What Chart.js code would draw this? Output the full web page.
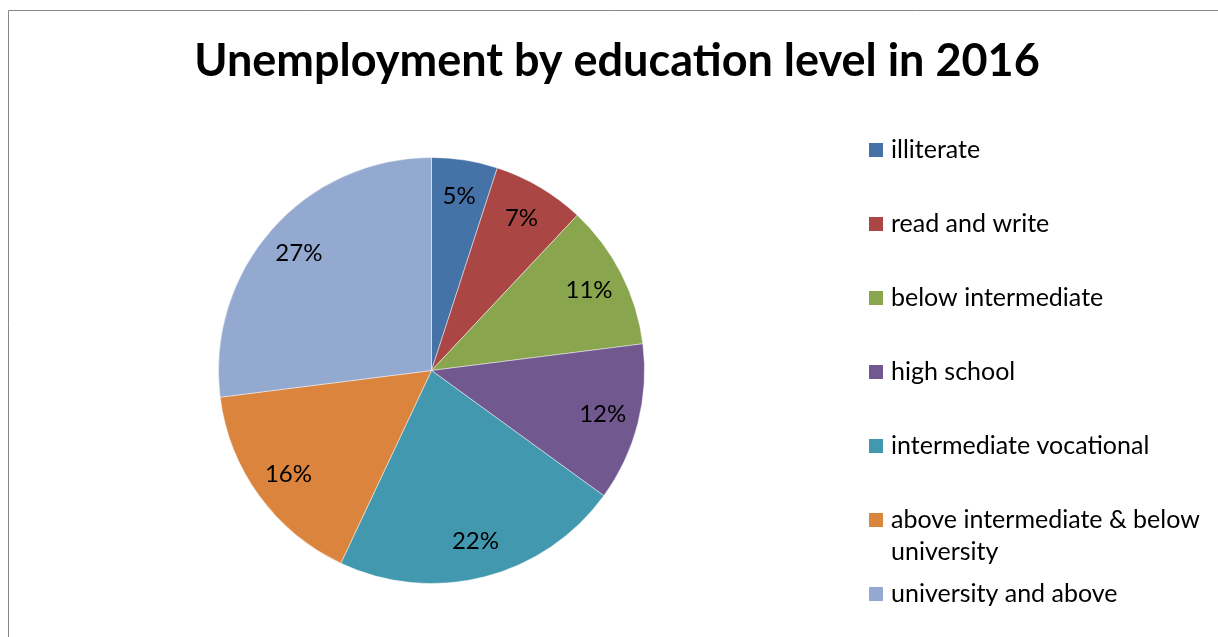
<!DOCTYPE html>
<html>
<head>
<meta charset="utf-8">
<title>Unemployment by education level in 2016</title>
<script src="https://cdn.jsdelivr.net/npm/chart.js@4.4.1/dist/chart.umd.min.js"></script>
<style>
  html, body { margin: 0; padding: 0; background: #fff; }
  #wrap { position: relative; width: 1218px; height: 637px; }
</style>
</head>
<body>
<div id="wrap"><canvas id="eduChart"></canvas></div>
<script>
// unemployment share per education level, 2016
const levels = [
    'illiterate',
    'read and write',
    'below intermediate',
    'high school',
    'intermediate vocational',
    'above intermediate & below university',
    'university and above'
];
const shares = [5, 7, 11, 12, 22, 16, 27];
const sliceColors = ['#4572A7', '#AA4643', '#89A54E', '#71588F', '#4198AF', '#DB843D', '#93A9CF'];
const chartTitle = 'Unemployment by education level in 2016';

const FONT = 'Lato, "Open Sans", sans-serif';

// frame + title drawn straight on the canvas
const frameAndTitle = {
    id: 'frameAndTitle',
    beforeDraw(chart) {
        const ctx = chart.ctx;
        ctx.save();
        ctx.strokeStyle = '#868686';
        ctx.lineWidth = 1;
        ctx.beginPath();
        ctx.moveTo(8.5, chart.height);
        ctx.lineTo(8.5, 10.5);
        ctx.lineTo(chart.width, 10.5);
        ctx.stroke();
        ctx.restore();
    },
    afterDraw(chart) {
        const ctx = chart.ctx;
        ctx.save();
        ctx.fillStyle = '#000';
        ctx.font = 'bold 45px ' + FONT;
        ctx.textAlign = 'center';
        ctx.textBaseline = 'alphabetic';
        ctx.fillText(chartTitle, 617, 76);
        ctx.restore();
    }
};

// percentage labels inside each slice
const sliceLabels = {
    id: 'sliceLabels',
    afterDatasetsDraw(chart) {
        const ctx = chart.ctx;
        const meta = chart.getDatasetMeta(0);
        ctx.save();
        ctx.fillStyle = '#000';
        ctx.font = '24px ' + FONT;
        ctx.textAlign = 'center';
        ctx.textBaseline = 'middle';
        meta.data.forEach((arc, i) => {
            const mid = (arc.startAngle + arc.endAngle) / 2;
            const r = arc.outerRadius * 0.83;
            const x = arc.x + Math.cos(mid) * r;
            const y = arc.y + Math.sin(mid) * r;
            ctx.fillText(shares[i] + '%', x, y);
        });
        ctx.restore();
    }
};

// legend on the right, wrapped the way the office chart does it
const sideLegend = {
    id: 'sideLegend',
    afterDraw(chart, args, opts) {
        const ctx = chart.ctx;
        ctx.save();
        ctx.font = '25px ' + FONT;
        ctx.textBaseline = 'middle';
        chart.data.labels.forEach((label, i) => {
            const y = opts.top + i * opts.step;
            ctx.fillStyle = sliceColors[i];
            ctx.fillRect(opts.left, y - 7, 14, 14);
            ctx.fillStyle = '#000';
            // simple word wrap
            const words = label.split(' ');
            const lines = [];
            let line = '';
            words.forEach(w => {
                const test = line ? line + ' ' + w : w;
                if (ctx.measureText(test).width > opts.maxWidth && line) {
                    lines.push(line);
                    line = w;
                } else {
                    line = test;
                }
            });
            lines.push(line);
            lines.forEach((l, j) => ctx.fillText(l, opts.left + 22, y + j * opts.lineHeight));
        });
        ctx.restore();
    }
};

new Chart(document.getElementById('eduChart'), {
    type: 'pie',
    data: {
        labels: levels,
        datasets: [{
            data: shares,
            backgroundColor: sliceColors,
            borderColor: 'rgba(255,255,255,0.45)',
            borderWidth: 1
        }]
    },
    options: {
        responsive: true,
        maintainAspectRatio: false,
        animation: false,
        layout: {
            padding: { top: 157, left: 218, right: 573, bottom: 53 }
        },
        plugins: {
            legend: { display: false },
            title: { display: false },
            tooltip: { enabled: false },
            sideLegend: { left: 869, top: 150, step: 74, lineHeight: 32, maxWidth: 318 }
        }
    },
    plugins: [frameAndTitle, sliceLabels, sideLegend]
});
</script>
</body>
</html>
